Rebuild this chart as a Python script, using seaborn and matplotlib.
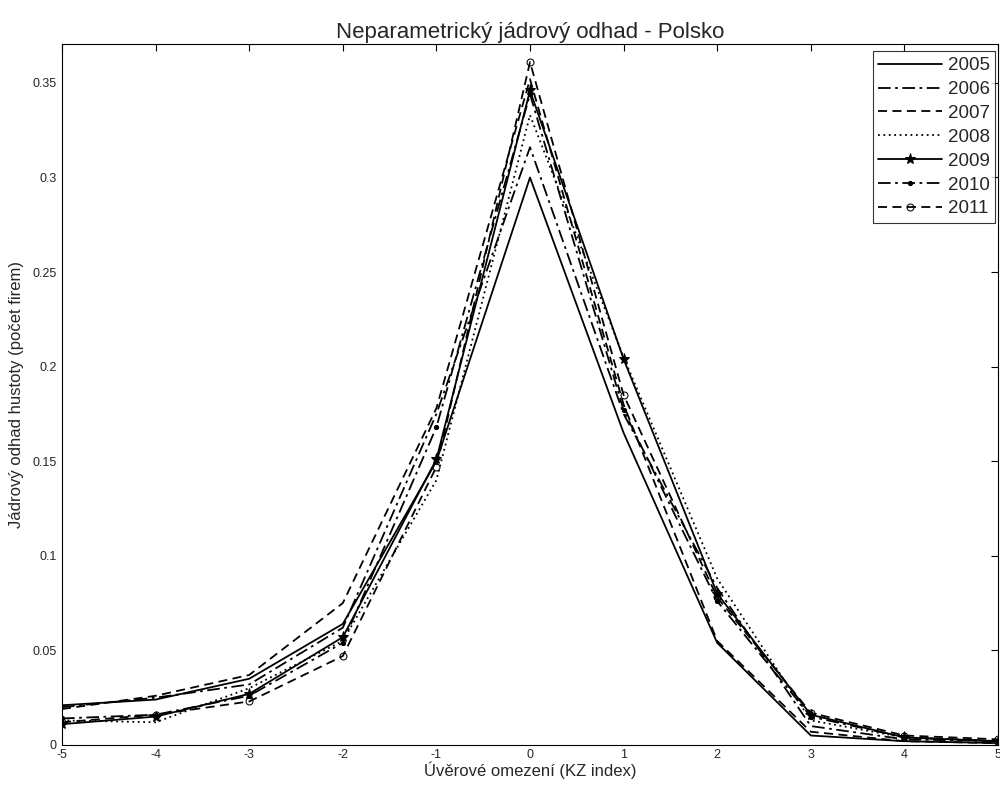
import numpy as np
import pandas as pd
import matplotlib
matplotlib.use("Agg")
import matplotlib.pyplot as plt
import seaborn as sns

x_vals = [-5, -4, -3, -2, -1, 0, 1, 2, 3, 4, 5]
y2005 = [0.021, 0.024, 0.035, 0.064, 0.150, 0.300, 0.165, 0.054, 0.005, 0.002, 0.001]
y2006 = [0.020, 0.025, 0.032, 0.062, 0.175, 0.316, 0.175, 0.083, 0.010, 0.003, 0.002]
y2007 = [0.019, 0.026, 0.037, 0.075, 0.178, 0.352, 0.180, 0.055, 0.007, 0.002, 0.001]
y2008 = [0.013, 0.012, 0.030, 0.055, 0.140, 0.333, 0.205, 0.088, 0.013, 0.004, 0.002]
y2009 = [0.011, 0.015, 0.027, 0.057, 0.151, 0.346, 0.204, 0.080, 0.016, 0.004, 0.002]
y2010 = [0.014, 0.016, 0.026, 0.054, 0.168, 0.344, 0.177, 0.076, 0.015, 0.004, 0.002]
y2011 = [0.012, 0.016, 0.023, 0.047, 0.147, 0.361, 0.185, 0.078, 0.017, 0.005, 0.003]
years = ["2005", "2006", "2007", "2008", "2009", "2010", "2011"]
series = [y2005, y2006, y2007, y2008, y2009, y2010, y2011]

sns.set_style("white")
plt.rcParams['font.family'] = ['Liberation Sans', 'DejaVu Sans']

styles = {
    "2005": dict(linestyle="-"),
    "2006": dict(linestyle=(0, (7, 2.5, 1.5, 2.5))),
    "2007": dict(linestyle=(0, (5, 3))),
    "2008": dict(linestyle=(0, (1, 2))),
    "2009": dict(linestyle="-", marker="*", markersize=8),
    "2010": dict(linestyle=(0, (7, 2.5, 1.5, 2.5)), marker=".", markersize=6),
    "2011": dict(linestyle=(0, (5, 3)), marker="o", markersize=5, markerfacecolor="none"),
}

fig = plt.figure(figsize=(10, 7.87), dpi=100)
ax = fig.add_axes([0.062, 0.0534, 0.936, 0.891])

for yr, vals in zip(years, series):
    df = pd.DataFrame({"x": x_vals, "y": vals})
    sns.lineplot(data=df, x="x", y="y", ax=ax, color="black", linewidth=1.3,
                 label=yr, markeredgecolor="black", **styles[yr])

ax.set_xlim(-5, 5)
ax.set_ylim(0, 0.3707)
ax.set_xticks(x_vals)
ax.set_xticklabels([str(v) for v in x_vals])
ax.set_yticks([0, 0.05, 0.1, 0.15, 0.2, 0.25, 0.3, 0.35])
ax.set_yticklabels(["0", "0.05", "0.1", "0.15", "0.2", "0.25", "0.3", "0.35"])
ax.tick_params(direction="in", top=True, right=True, labelsize=9, length=5, color="black", width=0.8)
ax.tick_params(axis="x", pad=3)
ax.tick_params(axis="y", pad=4)
for sp in ax.spines.values():
    sp.set_color("black")
    sp.set_linewidth(0.8)
ax.set_xlabel("Úvěrové omezení (KZ index)", fontsize=12, labelpad=0)
ax.set_ylabel("Jádrový odhad hustoty (počet firem)", fontsize=12, labelpad=6)
ax.set_title("Neparametrický jádrový odhad - Polsko", fontsize=16, pad=4)
leg = ax.legend(loc="upper right", bbox_to_anchor=(0.997, 0.989), fontsize=13.5,
                frameon=True, fancybox=False, edgecolor="black", handlelength=3.4,
                borderpad=0.3, labelspacing=0.36, handletextpad=0.3, borderaxespad=0.0)
leg.get_frame().set_linewidth(0.8)

fig.savefig("out.png", dpi=100)
